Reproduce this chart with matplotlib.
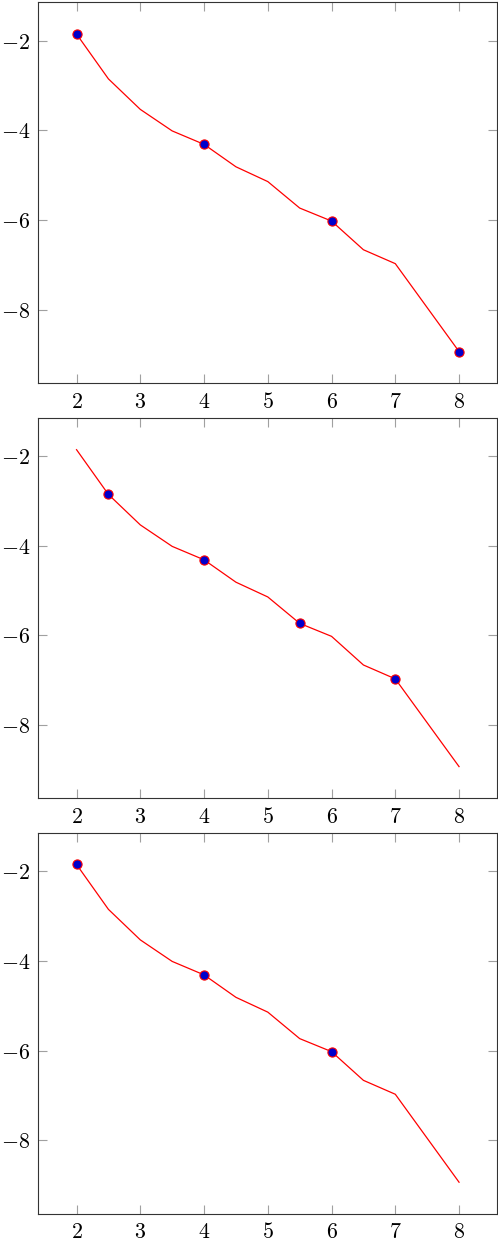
import matplotlib
matplotlib.use("Agg")
import matplotlib.pyplot as plt
from matplotlib.ticker import FixedLocator, FixedFormatter

plt.rcParams['mathtext.fontset'] = 'cm'

x_vals = [2.0, 2.5, 3.0, 3.5, 4.0, 4.5, 5.0, 5.5, 6.0, 6.5, 7.0, 7.5, 8.0]
y_vals = [-1.85, -2.85, -3.53, -4.01, -4.31, -4.81, -5.14, -5.73, -6.02, -6.66, -6.97, -7.95, -8.93]

marks_panel1 = [0, 4, 8, 12]
marks_panel2 = [1, 4, 7, 10]
marks_panel3 = [0, 4, 8]

x_ticks = [2, 3, 4, 5, 6, 7, 8]
y_ticks = [-8, -6, -4, -2]

fig = plt.figure(figsize=(4.98, 12.4), dpi=100)

W, H = 498.0, 1240.0
left_px, right_px = 38.3, 497.3
panels = [(2.3, 383.3, marks_panel1), (418.0, 798.3, marks_panel2), (832.7, 1214.0, marks_panel3)]

xr = max(x_vals) - min(x_vals)
yr = max(y_vals) - min(y_vals)

for top, bot, marks in panels:
    ax = fig.add_axes([left_px / W, 1 - bot / H, (right_px - left_px) / W, (bot - top) / H])
    ax.plot(x_vals, y_vals, color='red', lw=0.9, marker='o', markevery=marks,
            markersize=6.6, markerfacecolor='#0000cc', markeredgecolor='red', markeredgewidth=0.8,
            zorder=3)
    ax.set_xlim(min(x_vals) - 0.1 * xr, max(x_vals) + 0.1 * xr)
    ax.set_ylim(min(y_vals) - 0.1 * yr, max(y_vals) + 0.1 * yr)
    ax.xaxis.set_major_locator(FixedLocator(x_ticks))
    ax.xaxis.set_major_formatter(FixedFormatter([f"${t}$" for t in x_ticks]))
    ax.yaxis.set_major_locator(FixedLocator(y_ticks))
    ax.yaxis.set_major_formatter(FixedFormatter([f"${t}$" for t in y_ticks]))
    ax.tick_params(which='both', direction='in', length=6.5, width=0.8, color='#a0a0a0',
                   top=True, right=True, labelsize=15.8, pad=6)
    for s in ax.spines.values():
        s.set_linewidth(0.8)
        s.set_color('#333333')

fig.savefig('out.png', dpi=100)
